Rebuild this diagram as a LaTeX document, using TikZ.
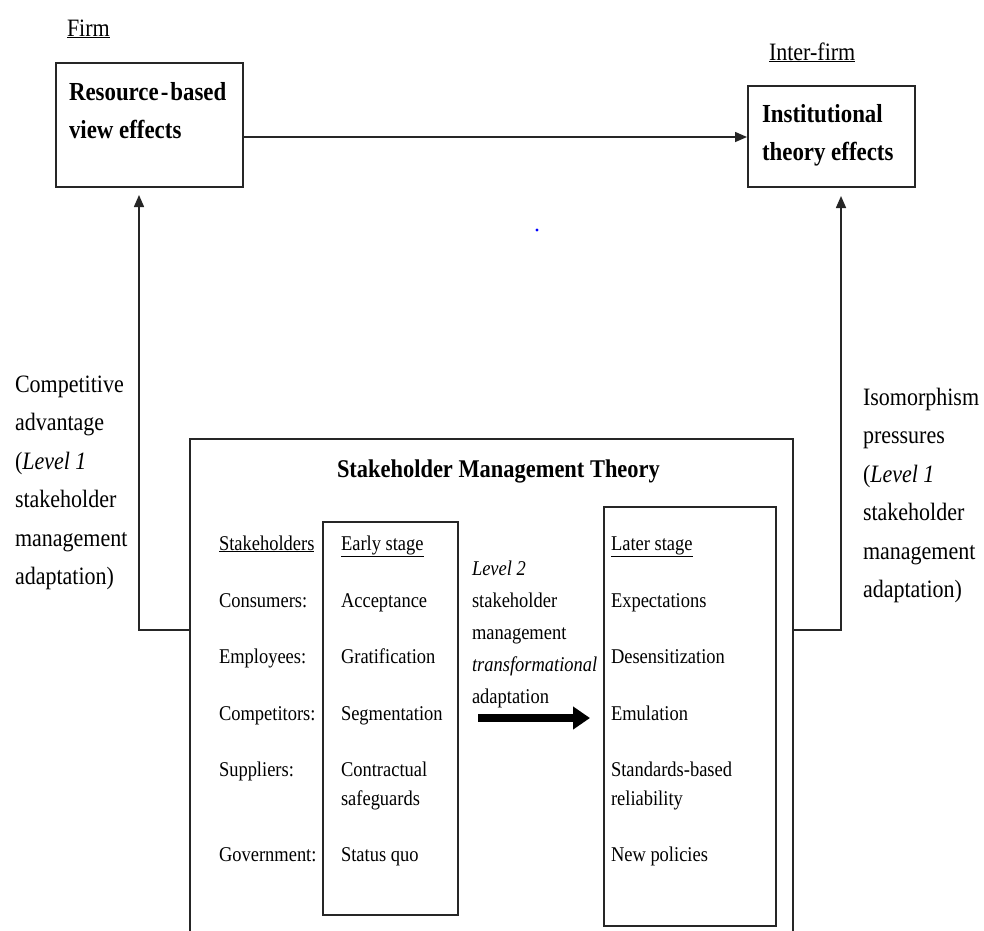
\documentclass[tikz,border=0pt]{standalone}
\usepackage{fontspec}
\setmainfont{Liberation Serif}[FakeStretch=0.88]
\usetikzlibrary{arrows.meta}
\begin{document}
\begin{tikzpicture}[x=1pt,y=-1pt,
  frame/.style={draw=black!85, line width=1.5pt, inner sep=0pt, anchor=north west},
  txt/.style={anchor=base west, inner sep=0pt, outer sep=0pt, align=left},
  body/.style={txt, font=\fontsize{21}{29}\selectfont},
  mid/.style={txt, font=\fontsize{21}{32}\selectfont},
  side/.style={txt, font=\fontsize{25}{38.5}\selectfont},
  head/.style={txt, font=\fontsize{26}{38}\selectfont\bfseries},
  link/.style={draw=black!85, line width=1.5pt, -{Triangle[length=12pt,width=10pt]}},
  bigarrow/.style={draw=black, line width=8pt, -{Triangle[length=17pt,width=22pt]}}]
\clip (0,0) rectangle (984,930);
\fill[white] (0,0) rectangle (984,930);

% top level boxes (multi-line texts are placed by their last baseline)
\node[frame, minimum width=187pt, minimum height=124pt] (rbv) at (55,62) {};
\node[frame, minimum width=167pt, minimum height=101pt] (inst) at (747,85) {};
\node[side] (firm) at (67,36) {\underline{Firm}};
\node[side] (interfirm) at (769,60) {\underline{Inter-firm}};
\node[head] (rbvtext) at (69,138) {Resource\kern2pt-\kern2pt based\\view effects};
\node[head] (insttext) at (762,160) {Institutional\\theory effects};

% stakeholder management theory panel (runs off the lower edge)
\node[frame, minimum width=603pt, minimum height=540pt] (smt) at (189,438) {};
\node[txt, font=\fontsize{25.5}{30}\selectfont\bfseries] (smttitle) at (337,477) {Stakeholder Management Theory};
\node[frame, minimum width=135pt, minimum height=393pt] (early) at (322,521) {};
\node[frame, minimum width=172pt, minimum height=419pt] (later) at (603,506) {};

% stakeholder column
\node[body] (sh) at (219,550) {\underline{Stakeholders}};
\node[body] (cons) at (219,607) {Consumers:};
\node[body] (empl) at (219,663) {Employees:};
\node[body] (comp) at (219,720) {Competitors:};
\node[body] (supp) at (219,776) {Suppliers:};
\node[body] (gov) at (219,861) {Government:};

% early stage column
\node[body] (es) at (341,550) {\underline{Early stage}};
\node[body] (acc) at (341,607) {Acceptance};
\node[body] (grat) at (341,663) {Gratification};
\node[body] (segm) at (341,720) {Segmentation};
\node[body] (contr) at (341,805) {Contractual\\safeguards};
\node[body] (sq) at (341,861) {Status quo};

% later stage column
\node[body] (ls) at (611,550) {\underline{Later stage}};
\node[body] (expc) at (611,607) {Expectations};
\node[body] (desens) at (611,663) {Desensitization};
\node[body] (emul) at (611,720) {Emulation};
\node[body] (stand) at (611,805) {Standards-based\\reliability};
\node[body] (newpol) at (611,861) {New policies};

% level 2 transformation
\node[mid] (lvl2) at (472,703) {\textit{Level 2}\\stakeholder\\management\\\textit{transformational}\\adaptation};
\coordinate (bigs) at (478,718);
\coordinate (bige) at (590,718);
\draw[bigarrow] (bigs) -- (bige);

% side labels
\node[side] (compadv) at (15,584.5) {Competitive\\advantage\\(\textit{Level 1}\\stakeholder\\management\\adaptation)};
\node[side] (isom) at (863,597.5) {Isomorphism\\pressures\\(\textit{Level 1}\\stakeholder\\management\\adaptation)};

% connectors
\coordinate (ltip) at (139,195);
\coordinate (rtip) at (841,196);
\draw[link] (rbv.east |- 0,137) -- (inst.west |- 0,137);
\draw[link] (smt.west |- 0,630) -| (ltip);
\draw[link] (smt.east |- 0,630) -| (rtip);

% stray mark
\fill[blue] (537,230) circle (1.6pt);
\end{tikzpicture}
\end{document}
